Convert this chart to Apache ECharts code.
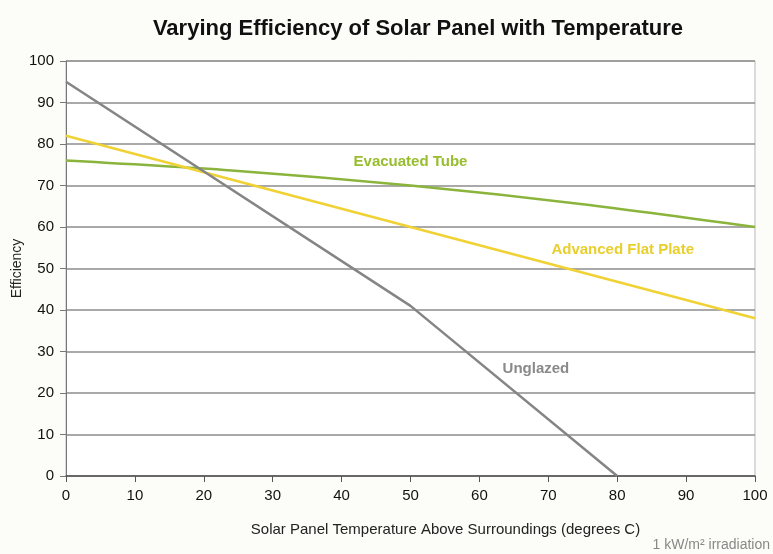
<!DOCTYPE html>
<html>
<head>
<meta charset="utf-8">
<script src="https://cdn.jsdelivr.net/npm/echarts@6/dist/echarts.min.js"></script>
<style>
  html, body { margin: 0; padding: 0; background: #fcfcf8; }
  #chart { width: 773px; height: 554px; }
</style>
</head>
<body>
<div id="chart"></div>
<script>
// temperature above surroundings (deg C) and efficiency (%)
const unglazed = [[0, 95], [50, 41], [80, 0]];
const evacuatedTube = [[0, 76], [25, 73.5], [50, 70], [75, 65.5], [100, 60]];
const flatPlate = [[0, 82], [50, 60], [100, 38]];

// label positions in data units
const seriesLabels = [
  { text: "Evacuated Tube", at: [50, 75.8], color: "#98bd2e" },
  { text: "Advanced Flat Plate", at: [80.8, 54.5], color: "#e8cf2c" },
  { text: "Unglazed", at: [68.2, 25.8], color: "#8a8a8a" },
];

const chart = echarts.init(document.getElementById("chart"));

chart.setOption({
  backgroundColor: "#fcfcf8",
  animation: false,
  title: {
    text: "Varying Efficiency of Solar Panel with Temperature",
    left: 413,
    top: 13,
    textAlign: "center",
    textStyle: { fontFamily: "Liberation Sans", fontSize: 22, fontWeight: "bold", color: "#111" },
  },
  grid: {
    left: 66, right: 18, top: 61, bottom: 78,
    containLabel: false, outerBoundsMode: "none",
    show: true, backgroundColor: "#fff", borderColor: "#b8b8b8", borderWidth: 1,
  },
  xAxis: {
    type: "value",
    min: 0, max: 100, interval: 10,
    name: "Solar Panel Temperature Above Surroundings (degrees C)",
    nameLocation: "middle",
    nameGap: 46,
    nameTextStyle: { fontFamily: "Liberation Sans", fontSize: 15, color: "#222", padding: [0, 0, 0, 70] },
    axisLine: { lineStyle: { color: "#555", width: 1.5 } },
    axisTick: { show: true, length: 6, lineStyle: { color: "#555" } },
    axisLabel: { fontFamily: "Liberation Sans", fontSize: 15, color: "#111", margin: 12 },
    splitLine: { show: false },
  },
  yAxis: {
    type: "value",
    min: 0, max: 100, interval: 10,
    name: "Efficiency",
    nameLocation: "middle",
    nameGap: 42,
    nameMoveOverlap: false,
    nameTextStyle: { fontFamily: "Liberation Sans", fontSize: 14, color: "#222" },
    axisLine: { show: true, lineStyle: { color: "#777" } },
    axisTick: { show: true, length: 6, lineStyle: { color: "#777" } },
    axisLabel: { fontFamily: "Liberation Sans", fontSize: 15, color: "#111", margin: 12 },
    splitLine: { lineStyle: { color: "#8c8c8c", width: 1.5 } },
  },
  series: [
    {
      name: "Evacuated Tube", type: "line", data: evacuatedTube, smooth: 0.3,
      symbol: "none", lineStyle: { color: "#8bb43c", width: 2.5 },
    },
    {
      name: "Advanced Flat Plate", type: "line", data: flatPlate,
      symbol: "none", lineStyle: { color: "#f0d234", width: 2.5 },
    },
    {
      name: "Unglazed", type: "line", data: unglazed,
      symbol: "none", lineStyle: { color: "#858585", width: 2.5 },
    },
  ],
});

const graphics = seriesLabels.map(function (l) {
  const p = chart.convertToPixel({ gridIndex: 0 }, l.at);
  return {
    type: "text", x: p[0], y: p[1],
    style: {
      text: l.text, fill: l.color, align: "center", verticalAlign: "middle",
      font: "bold 15px 'Liberation Sans'",
    },
  };
});
graphics.push({
  type: "text", right: 3, bottom: 2,
  style: { text: "1 kW/m\u00b2 irradiation", fill: "#888", font: "14px 'Liberation Sans'" },
});
chart.setOption({ graphic: graphics });
</script>
</body>
</html>
